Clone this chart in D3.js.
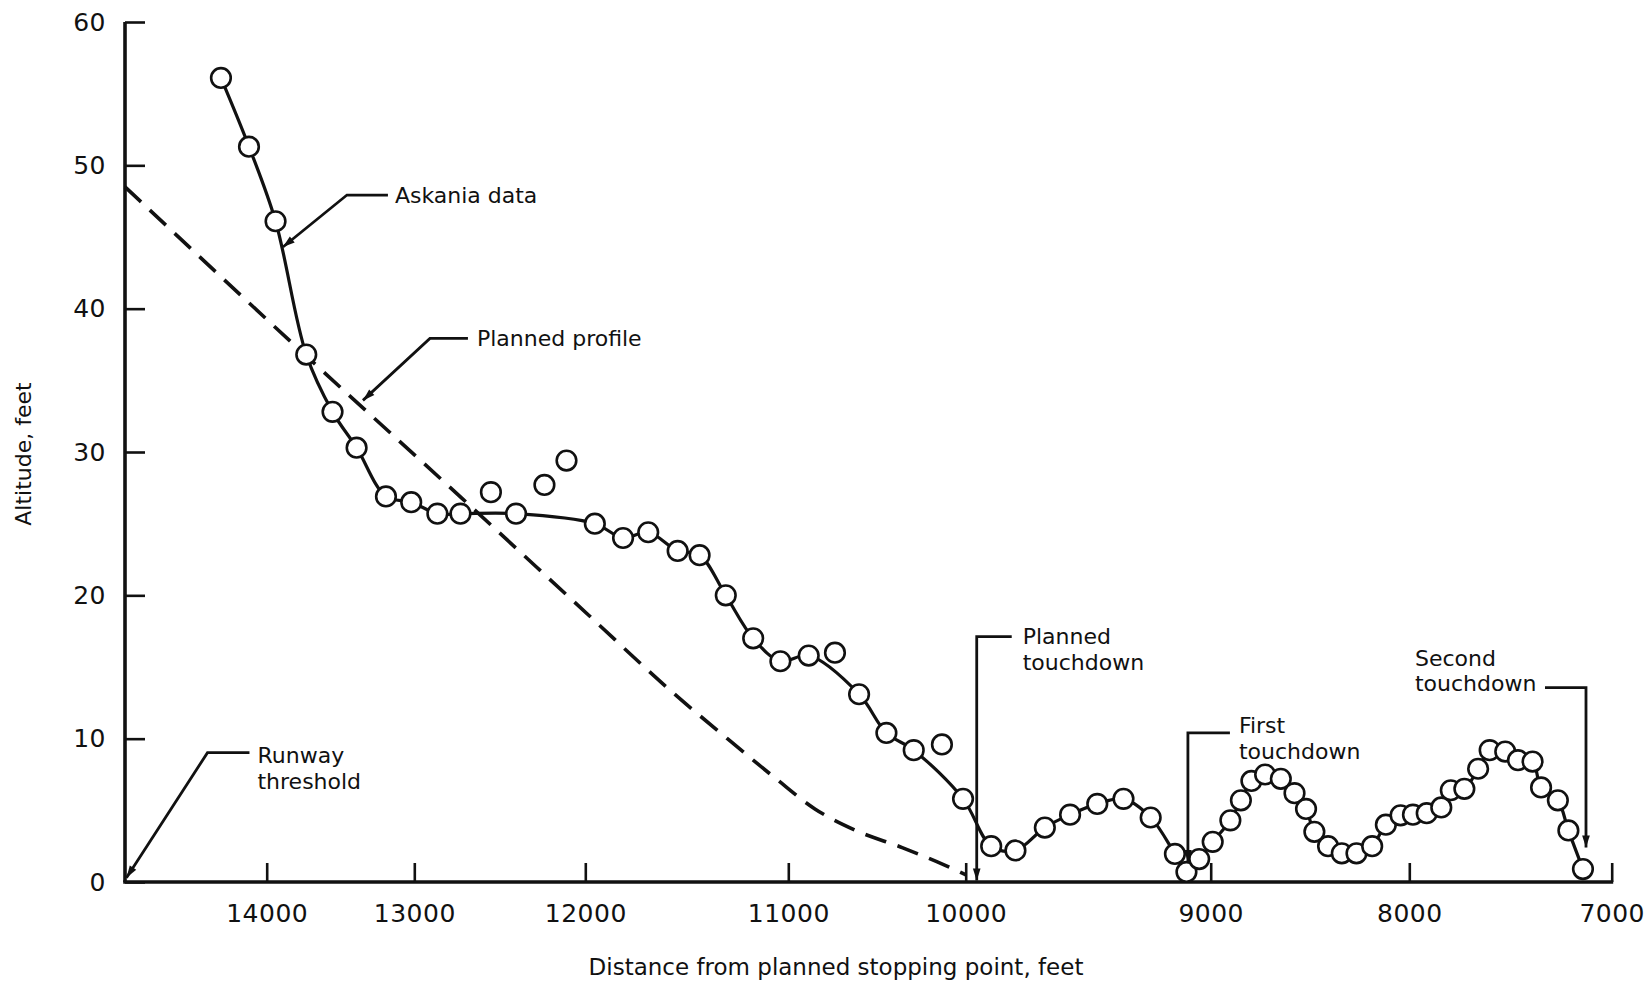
<!DOCTYPE html>
<html>
<head>
<meta charset="utf-8">
<script src="https://cdn.jsdelivr.net/npm/d3@7"></script>
<style>
  body { margin: 0; background: #fff; }
  svg text { font-family: "DejaVu Sans", sans-serif; fill: #111; }
</style>
</head>
<body>
<div class="chart"></div>
<script>
// values
const distanceTicks = [14000, 13000, 12000, 11000, 10000, 9000, 8000, 7000];
const altitudeTicks = [0, 10, 20, 30, 40, 50, 60];
const runwayStart = 14960;   // distance where the axes meet

// Askania tracking points (distance ft, altitude ft)
const askaniaDistance = [14310, 14120, 13940, 13732, 13554, 13391, 13192, 13021, 12865, 12730,
  12552, 12405, 12239, 12110, 11953, 11814, 11690, 11545, 11437, 11308,
  11173, 11039, 10885, 10737, 10601, 10447, 10293, 10134, 10015, 9896,
  9797, 9677, 9574, 9463, 9356, 9245, 9146, 9099, 9047, 8990,
  8901, 8848, 8795, 8726, 8647, 8578, 8520, 8478, 8409, 8340,
  8266, 8187, 8118, 8044, 7982, 7914, 7842, 7795, 7728, 7660,
  7603, 7526, 7463, 7391, 7349, 7266, 7214, 7142];
const askaniaAltitude = [56.1, 51.3, 46.1, 36.8, 32.8, 30.3, 26.9, 26.5, 25.7, 25.7,
  27.2, 25.7, 27.7, 29.4, 25.0, 24.0, 24.4, 23.1, 22.8, 20.0,
  17.0, 15.4, 15.8, 16.0, 13.1, 10.4, 9.2, 9.6, 5.8, 2.5,
  2.2, 3.8, 4.7, 5.45, 5.8, 4.5, 1.96, 0.7, 1.6, 2.8,
  4.3, 5.7, 7.05, 7.5, 7.2, 6.2, 5.1, 3.5, 2.5, 2.0,
  2.0, 2.5, 4.0, 4.65, 4.7, 4.8, 5.2, 6.4, 6.5, 7.9,
  9.2, 9.1, 8.5, 8.4, 6.6, 5.7, 3.6, 0.9];
// points that the faired curve does not go through
const scatterDistance = [12552, 12239, 12110, 10737, 10134];

// planned profile (dashed)
const plannedDistance = [14960, 13732, 12724, 11990, 11576, 11300, 11060, 10850, 10620, 10358, 10122, 10000];
const plannedAltitude = [48.5, 36.7, 26.8, 18.7, 13.3, 10.0, 7.2, 5.1, 3.6, 2.4, 1.2, 0.5];

const Width = 1645, Height = 986;

// the scan's distance ticks are not evenly spaced, so x is piecewise linear between them
const xTickPx = [266.7, 414.3, 585.3, 788.3, 965.7, 1210.7, 1409.3, 1611.7];
const x = d3.scaleLinear().domain(distanceTicks).range(xTickPx);
const y = d3.scaleLinear().domain([0, 60]).range([882, 22]);

const svg = d3.select(".chart").append("svg")
    .attr("width", Width)
    .attr("height", Height);

svg.append("defs").append("marker")
    .attr("id", "arrow")
    .attr("viewBox", "0 0 10 10")
    .attr("refX", 10).attr("refY", 5)
    .attr("markerWidth", 18).attr("markerHeight", 12)
    .attr("markerUnits", "userSpaceOnUse")
    .attr("orient", "auto")
  .append("path")
    .attr("d", "M0,1.8 L10,5 L0,8.2 z")
    .attr("fill", "#111");

// axes lines
svg.append("line")
    .attr("x1", x(runwayStart)).attr("x2", x(runwayStart))
    .attr("y1", y(60)).attr("y2", y(0))
    .attr("stroke", "#111").attr("stroke-width", 3.6);
svg.append("line")
    .attr("x1", x(runwayStart) - 1.8).attr("x2", x(7000) + 1.5)
    .attr("y1", y(0)).attr("y2", y(0))
    .attr("stroke", "#111").attr("stroke-width", 3.6);

// X Axis ticks and labels
const xAxis = svg.append("g")
    .attr("transform", "translate(0," + y(0) + ")")
    .call(d3.axisBottom(x)
      .tickValues(distanceTicks)
      .tickSize(-19)
      .tickPadding(22)
      .tickFormat(d3.format("d")));
xAxis.select(".domain").remove();
xAxis.selectAll(".tick line").attr("stroke", "#111").attr("stroke-width", 2.6);
xAxis.selectAll(".tick text")
    .attr("font-family", "DejaVu Sans")
    .attr("font-size", 25)
    .attr("letter-spacing", 0.5)
    .attr("fill", "#111");

// Y Axis ticks and labels
const yAxis = svg.append("g")
    .attr("transform", "translate(" + x(runwayStart) + ",0)")
    .call(d3.axisLeft(y)
      .tickValues(altitudeTicks)
      .tickSize(-20)
      .tickPadding(19));
yAxis.select(".domain").remove();
yAxis.selectAll(".tick line").attr("stroke", "#111").attr("stroke-width", 2.6);
yAxis.selectAll(".tick text")
    .attr("font-family", "DejaVu Sans")
    .attr("font-size", 25)
    .attr("letter-spacing", 0.5)
    .attr("fill", "#111");

// axis titles
svg.append("text")
    .attr("x", 836).attr("y", 975)
    .attr("text-anchor", "middle")
    .style("font-size", "23px")
    .text("Distance from planned stopping point, feet");
svg.append("text")
    .attr("transform", "translate(31,454) rotate(-90)")
    .attr("text-anchor", "middle")
    .style("font-size", "22px")
    .text("Altitude, feet");

// planned profile
const planned = plannedDistance.map((d, i) => [d, plannedAltitude[i]]);
svg.append("path")
    .datum(planned)
    .attr("fill", "none")
    .attr("stroke", "#111")
    .attr("stroke-width", 3.6)
    .attr("stroke-dasharray", "22,12")
    .attr("d", d3.line()
      .x(d => x(d[0]))
      .y(d => y(d[1]))
      .curve(d3.curveMonotoneX));

// faired curve through askania data
const askania = askaniaDistance.map((d, i) => [d, askaniaAltitude[i]]);
const faired = askania.filter(d => !scatterDistance.includes(d[0]));
svg.append("path")
    .datum(faired)
    .attr("fill", "none")
    .attr("stroke", "#111")
    .attr("stroke-width", 3.2)
    .attr("d", d3.line()
      .x(d => x(d[0]))
      .y(d => y(d[1]))
      .curve(d3.curveCatmullRom.alpha(0.5)));

svg.append("g").selectAll("circle")
    .data(askania)
  .enter().append("circle")
    .attr("cx", d => x(d[0]))
    .attr("cy", d => y(d[1]))
    .attr("r", 9.8)
    .attr("fill", "#fff")
    .attr("stroke", "#111")
    .attr("stroke-width", 2.6);

// callouts: tip in data units, leader/text offsets in px from the tip
const notes = [
  { lines: ["Askania data"], at: [13890, 44.3], elbow: [64, -52], end: [105, -52], text: [112, -52] },
  { lines: ["Planned profile"], at: [13348, 33.6], elbow: [67, -62], end: [105, -62], text: [114, -62] },
  { lines: ["Runway", "threshold"], at: [14950, 0.3], elbow: [81, -125], end: [123, -125], text: [131, -123] },
  { lines: ["Planned", "touchdown"], at: [9955, 0.1], elbow: [0, -244], end: [35, -244], text: [46, -244] },
  { lines: ["First", "touchdown"], at: [9093, 1.4], elbow: [0, -129], end: [42, -129], text: [51, -137] },
  { lines: ["Second", "touchdown"], at: [7127, 2.4], elbow: [0, -160], end: [-41, -160], text: [-171, -190] }
];

notes.forEach(n => {
  const tx = x(n.at[0]), ty = y(n.at[1]);
  svg.append("path")
      .attr("d", "M" + (tx + n.end[0]) + "," + (ty + n.end[1]) +
                 "L" + (tx + n.elbow[0]) + "," + (ty + n.elbow[1]) +
                 "L" + tx + "," + ty)
      .attr("fill", "none")
      .attr("stroke", "#111")
      .attr("stroke-width", 2.8)
      .attr("marker-end", "url(#arrow)");
  const t = svg.append("text")
      .attr("x", tx + n.text[0])
      .attr("y", ty + n.text[1])
      .style("font-size", "22px");
  n.lines.forEach((l, i) => {
    t.append("tspan")
        .attr("x", tx + n.text[0])
        .attr("dy", i === 0 ? "0.36em" : "1.18em")
        .text(l);
  });
});
</script>
</body>
</html>
